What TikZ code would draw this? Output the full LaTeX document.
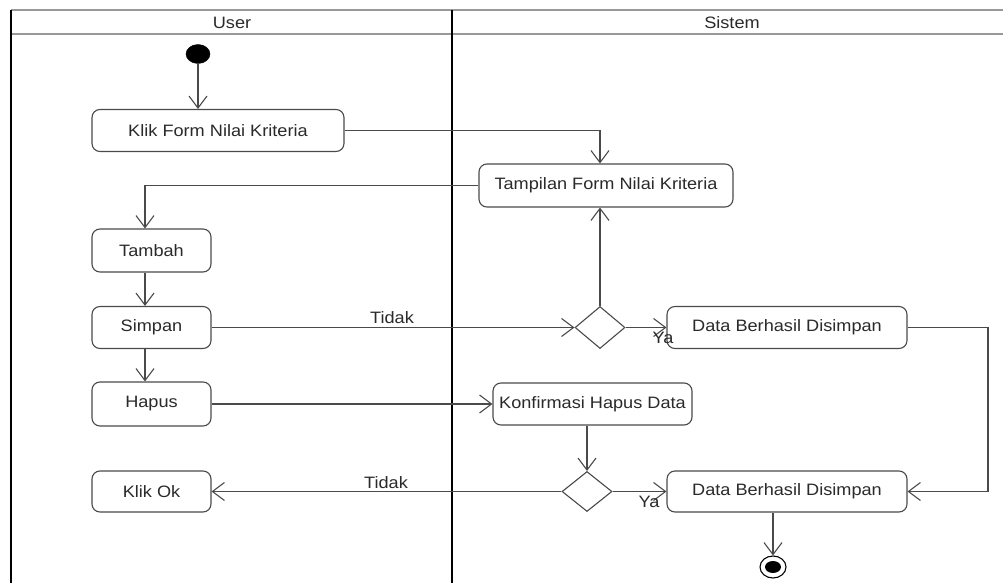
\documentclass[tikz,border=0pt]{standalone}
\usepackage{fontspec}
\setmainfont[FakeStretch=1.1]{Liberation Sans}
\usetikzlibrary{arrows.meta,shapes.geometric}
\definecolor{lc}{HTML}{4A4A4A}
\definecolor{tc}{HTML}{2A2A2A}
\tikzset{
  act/.style={draw=lc, line width=1.1pt, rounded corners=8pt, inner sep=0pt,
    minimum height=42pt, text=tc, font=\fontsize{16.5}{18}\selectfont},
  dec/.style={draw=lc, line width=1.1pt, diamond, inner sep=0pt, minimum width=50pt,
    minimum height=42pt},
  flow/.style={draw=lc, line width=1.1pt, -{Straight Barb[length=12pt,width=18pt,line width=1.1pt]}},
  plain/.style={draw=lc, line width=1.1pt},
  lbl/.style={text=tc, font=\fontsize{16.5}{18}\selectfont, inner sep=0pt},
  lane/.style={line width=2.4pt, draw=black},
  hdr/.style={line width=1.4pt, draw=gray!80}
}
\begin{document}
\begin{tikzpicture}[x=1pt,y=-1pt]
\useasboundingbox[fill=white] (0,0) rectangle (1003,583);
% swimlane frame
\coordinate (tl) at (11,10);
\coordinate (tr) at (1003,10);
\coordinate (hl) at (11,34);
\coordinate (hr) at (1003,34);
\coordinate (bl) at (11,583);
\coordinate (dt) at (452,10);
\coordinate (db) at (452,583);
\draw[hdr] (tl) -- (tr);
\draw[hdr] (hl) -- (hr);
\draw[line width=1.8pt, draw=black] (tl) -- (bl);
\draw[lane] (dt) -- (db);
\node[lbl] (huser) at (232,23) {User};
\node[lbl] (hsis) at (732,23) {Sistem};

% nodes
\node[ellipse, fill=black, draw=black, minimum width=24pt, minimum height=19pt, inner sep=0pt] (start) at (198,54) {};
\node[act, minimum width=252pt] (klik) at (218,130.5) {Klik Form Nilai Kriteria};
\node[act, minimum width=254pt, minimum height=43pt] (tampil) at (606,185.5) {Tampilan Form Nilai Kriteria};
\node[act, minimum width=119pt, minimum height=43pt] (tambah) at (151.5,250.5) {Tambah};
\node[act, minimum width=119pt] (simpan) at (151.5,327.5) {Simpan};
\node[act, minimum width=119pt, minimum height=44pt] (hapus) at (151.5,404) {Hapus};
\node[act, minimum width=119pt, minimum height=41pt] (klikok) at (151.5,491.5) {Klik Ok};
\node[dec] (dec1) at (600,327.5) {};
\node[act, minimum width=240pt] (db1) at (787,327.5) {Data Berhasil Disimpan};
\node[act, minimum width=199pt] (konf) at (592.5,404) {Konfirmasi Hapus Data};
\node[dec, minimum height=40pt] (dec2) at (587,491.5) {};
\node[act, minimum width=240pt, minimum height=41pt] (db2) at (787,491.5) {Data Berhasil Disimpan};
\node[ellipse, draw=black, line width=1.1pt, minimum width=26pt, minimum height=22pt, inner sep=0pt] (endo) at (773,567) {};
\node[ellipse, fill=black, minimum width=16pt, minimum height=12pt, inner sep=0pt] (endi) at (endo.center) {};

\coordinate (ux) at (145,0);
\coordinate (rx) at (988,0);

% connectors
\draw[flow] (start) -- (start |- klik.north);
\draw[flow] (klik.east) -| (dec1 |- tampil.north);
\draw[flow] (tampil.west) -| (ux |- tambah.north);
\draw[flow] (ux |- tambah.south) -- (ux |- simpan.north);
\draw[flow] (ux |- simpan.south) -- (ux |- hapus.north);
\draw[flow] (simpan.east) -- (dec1.west);
\node[lbl] (t1) at (392,318) {Tidak};
\draw[flow] (dec1.north) -- (dec1 |- tampil.south);
\draw[flow] (dec1.east) -- (db1.west);
\node[lbl] (y1) at (663,338) {Ya};
\draw[flow] (hapus.east) -- (konf.west);
\draw[flow] (dec2 |- konf.south) -- (dec2.north);
\draw[flow] (dec2.west) -- (klikok.east);
\node[lbl] (t2) at (386,483) {Tidak};
\draw[flow] (dec2.east) -- (db2.west);
\node[lbl] (y2) at (649,502) {Ya};
\draw[flow] (db1.east) -- (db1.east -| rx) -- (db2.east -| rx) -- (db2.east);
\draw[flow] (endo |- db2.south) -- (endo.north);
\end{tikzpicture}
\end{document}
